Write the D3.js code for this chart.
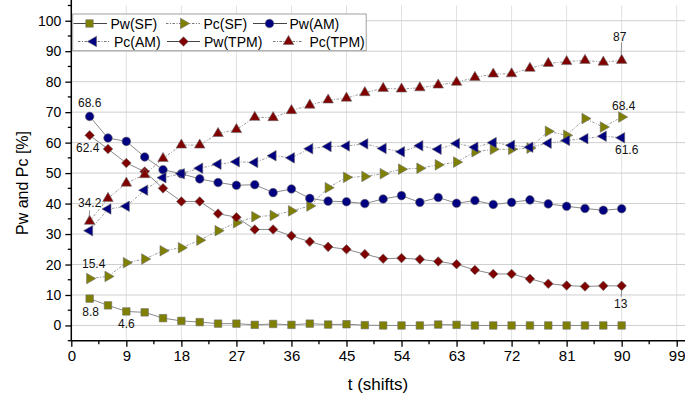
<!DOCTYPE html>
<html><head><meta charset="utf-8">
<script src="https://cdn.jsdelivr.net/npm/d3@7"></script>
<style>
html,body{margin:0;padding:0;background:#fff;}
svg{display:block;font-family:"Liberation Sans",Arial,sans-serif;}
</style></head>
<body>
<svg id="c" width="685" height="405"></svg>
<script>
// ---- data ----
const shifts = [3,6,9,12,15,18,21,24,27,30,33,36,39,42,45,48,51,54,57,60,63,66,69,72,75,78,81,84,87,90];
const pwSF  = [8.8,6.6,4.6,4.3,2.4,1.5,1.1,0.6,0.6,0.2, 0.5,0.2,0.6,0.3,0.4,0.1,0,0,0,0.3,0.2, 0,0,0,0,0,0,0,0,0];
const pcSF  = [15.4,16.1,20.6,21.8,24.5,25.5,28.0,31.1,33.7,35.7, 36.1,37.6,39.2,45.2,48.6,48.9,49.8,51.3,51.6,52.7,53.6, 57.0,57.8,57.8,58.2,63.7,62.4,67.9,65.1,68.4];
const pwAM  = [68.6,61.5,60.4,55.3,51.1,49.8,48.1,46.9,46.0,46.2, 43.6,44.8,41.7,40.8,40.6,40.0,41.5,42.6,40.4,42.0,40.1, 41.0,39.7,40.4,41.2,39.9,39.1,38.4,37.8,38.3];
const pcAM  = [31.1,38.2,39.1,44.4,48.5,49.8,51.6,52.9,53.7,53.5, 55.7,55.0,58.0,58.7,58.9,59.6,58.1,57.0,59.0,57.8,59.7, 58.5,60.0,59.1,58.5,59.8,60.7,61.3,62.1,61.6];
const pwTPM = [62.4,57.9,53.3,50.5,45.0,40.7,40.7,36.7,35.5,31.5, 31.5,29.4,27.5,25.8,25.0,23.4,21.9,22.1,21.7,21.0,20.1, 18.2,16.9,16.9,15.3,13.7,13.1,12.8,13.0,13];
const pcTPM = [34.2,41.7,46.7,49.5,54.8,59.2,59.2,63.0,64.3,68.3, 68.2,70.5,72.3,74.0,74.6,76.4,77.8,77.6,78.0,78.9,79.8, 81.4,82.5,82.6,84.4,86.0,86.6,87.0,86.4,87];
const seriesNames = ["Pw(SF)","Pc(SF)","Pw(AM)","Pc(AM)","Pw(TPM)","Pc(TPM)"];
const xTicks = [0,9,18,27,36,45,54,63,72,81,90,99];
const yTicks = [0,10,20,30,40,50,60,70,80,90,100];
const labelTexts = ["68.6","62.4","34.2","15.4","8.8","4.6","87","68.4","61.6","13"];

// ---- styles ----
const olive="#808000", navy="#000080", maroon="#800000";
const series = [
  {name:seriesNames[0], values:pwSF,  color:olive,  shape:"square",   dashed:false},
  {name:seriesNames[1], values:pcSF,  color:olive,  shape:"triRight", dashed:true},
  {name:seriesNames[2], values:pwAM,  color:navy,   shape:"circle",   dashed:false},
  {name:seriesNames[3], values:pcAM,  color:navy,   shape:"triLeft",  dashed:true},
  {name:seriesNames[4], values:pwTPM, color:maroon, shape:"diamond",  dashed:false},
  {name:seriesNames[5], values:pcTPM, color:maroon, shape:"triUp",    dashed:true}
];

const svg = d3.select("#c");
const x = d3.scaleLinear().domain([0,99]).range([71.3,676.7]);
const y = d3.scaleLinear().domain([-5,105]).range([340.7,5.5]);
const plotTop = 5.5, plotBottom = 340.7, plotLeft = 71.3, plotRight = 685;

// grid
const grid = svg.append("g");
grid.selectAll("line.v").data(xTicks.filter(d=>d>0)).enter().append("line")
  .attr("x1",d=>x(d)).attr("x2",d=>x(d)).attr("y1",plotTop).attr("y2",plotBottom)
  .attr("stroke","#e1e1e1").attr("stroke-width",1);
grid.selectAll("line.h").data(yTicks).enter().append("line")
  .attr("x1",plotLeft).attr("x2",plotRight).attr("y1",d=>y(d)).attr("y2",d=>y(d))
  .attr("stroke","#cfcfcf").attr("stroke-width",1);

// axes
const xMinor = d3.range(0,100,4.5).filter(v=>xTicks.indexOf(v)<0);
const yMinor = d3.range(-5,106,5).filter(v=>yTicks.indexOf(v)<0);
const gx = svg.append("g").attr("transform",`translate(0,${plotBottom})`);
gx.call(d3.axisBottom(x).tickValues(xTicks).tickSize(6).tickSizeOuter(0).tickPadding(4));
gx.select(".domain").remove();
gx.selectAll(".tick line").attr("stroke","#000").attr("stroke-width",1.3);
gx.selectAll(".tick text").attr("font-size",15).attr("fill","#000")
  .attr("font-family","'Liberation Sans',Arial,sans-serif");
gx.selectAll("line.minor").data(xMinor).enter().append("line")
  .attr("x1",d=>x(d)).attr("x2",d=>x(d)).attr("y1",0).attr("y2",3.5)
  .attr("stroke","#000").attr("stroke-width",1.3);
gx.append("line").attr("x1",plotLeft).attr("x2",plotRight).attr("y1",0).attr("y2",0)
  .attr("stroke","#000").attr("stroke-width",1.5);

const gy = svg.append("g").attr("transform",`translate(${plotLeft},0)`);
gy.call(d3.axisLeft(y).tickValues(yTicks).tickSize(6).tickSizeOuter(0).tickPadding(4));
gy.select(".domain").remove();
gy.selectAll(".tick line").attr("stroke","#000").attr("stroke-width",1.3);
gy.selectAll(".tick text").attr("font-size",14).attr("fill","#000")
  .attr("font-family","'Liberation Sans',Arial,sans-serif");
gy.selectAll("line.minor").data(yMinor).enter().append("line")
  .attr("x1",0).attr("x2",-3.5).attr("y1",d=>y(d)).attr("y2",d=>y(d))
  .attr("stroke","#000").attr("stroke-width",1.3);
gy.append("line").attr("x1",0).attr("x2",0).attr("y1",0).attr("y2",plotBottom)
  .attr("stroke","#000").attr("stroke-width",1.5);

// titles
svg.append("text").attr("x",378).attr("y",390).attr("text-anchor","middle")
  .attr("font-size",17).text("t (shifts)");
svg.append("text").attr("transform","translate(28,183) rotate(-90)").attr("text-anchor","middle")
  .attr("font-size",16).text("Pw and Pc [%]");

// marker builder
function marker(g, shape, color){
  let p;
  if(shape==="square") p = g.append("path").attr("d",d3.symbol(d3.symbolSquare,56)());
  else if(shape==="circle") p = g.append("path").attr("d",d3.symbol(d3.symbolCircle,58)());
  else if(shape==="diamond") p = g.append("path").attr("d",d3.symbol(d3.symbolSquare,46)()).attr("transform","rotate(45)");
  else {
    const rot = shape==="triUp"?0:(shape==="triRight"?90:-90);
    p = g.append("path").attr("d",d3.symbol(d3.symbolTriangle,48)()).attr("transform",`rotate(${rot})`);
  }
  p.attr("fill",color).attr("stroke","#6b6b6b").attr("stroke-width",0.6);
}

// lines + markers
const line = d3.line().x((d,i)=>x(shifts[i])).y(d=>y(d));
series.forEach(s=>{
  svg.append("path").datum(s.values).attr("d",line).attr("fill","none")
    .attr("stroke", s.dashed? "#9a9a9a":"#8a8a8a").attr("stroke-width",1)
    .attr("stroke-dasharray", s.dashed? "2.5,1.5,1,1.5":null);
});
series.forEach(s=>{
  s.values.forEach((v,i)=>{
    const g = svg.append("g").attr("transform",`translate(${x(shifts[i])},${y(v)})`);
    marker(g, s.shape, s.color);
  });
});

// annotations: [series index, point index, dx, dy, leader]
const annPos = [
  [2,0,0,-14,null],
  [4,0,-2,12.5,null],
  [5,0,0,-18,[-11,-4]],
  [1,0,4,-14.5,null],
  [0,0,1,13,null],
  [0,2,0,12.5,null],
  [5,29,-2,-24,[-18,-6]],
  [1,29,2,-11.5,null],
  [3,29,5,12,null],
  [4,29,-1,18,[5,11]]
];
annPos.forEach((a,k)=>{
  const s = series[a[0]];
  const px = x(shifts[a[1]]), py = y(s.values[a[1]]);
  if(a[4]){
    svg.append("line").attr("x1",px).attr("x2",px-0.5).attr("y1",py+a[4][0]).attr("y2",py+a[4][1])
      .attr("stroke","#777").attr("stroke-width",0.8);
  }
  svg.append("text").attr("x",px+a[2]).attr("y",py+a[3]).attr("dy","0.35em")
    .attr("text-anchor","middle").attr("font-size",12).attr("fill","#111").text(labelTexts[k]);
});

// legend
const lg = svg.append("g");
lg.append("rect").attr("x",72.7).attr("y",14).attr("width",293.5).attr("height",36.7)
  .attr("fill","#fff").attr("stroke","#a0a0a0").attr("stroke-width",1);
const legPos = [
  [73.5,107,89.5,110.5,23.5],
  [166,200,183.5,203.5,23.5],
  [253,287,269.5,289.5,23.5],
  [78,110,93.5,114,41.5],
  [167,200,183.5,204,41.5],
  [273,303,288.5,309.5,41.5]
];
series.forEach((s,i)=>{
  const p = legPos[i];
  lg.append("line").attr("x1",p[0]).attr("x2",p[1]).attr("y1",p[4]).attr("y2",p[4])
    .attr("stroke", s.dashed?"#777":"#444").attr("stroke-width",1)
    .attr("stroke-dasharray", s.dashed?"2.5,1.5,1,1.5":null);
  const g = lg.append("g").attr("transform",`translate(${p[2]},${p[4]})`);
  marker(g, s.shape, s.color);
  lg.append("text").attr("x",p[3]).attr("y",p[4]).attr("dy","0.36em")
    .attr("font-size",14).attr("fill","#000").text(s.name);
});
</script>
</body></html>
